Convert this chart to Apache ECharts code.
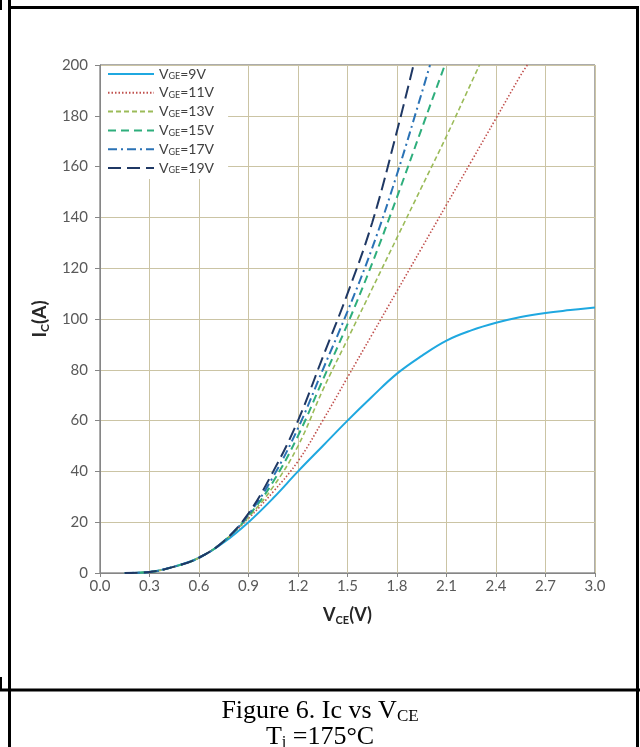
<!DOCTYPE html>
<html><head><meta charset="utf-8">
<script src="https://cdn.jsdelivr.net/npm/echarts@6/dist/echarts.min.js"></script>
<style>html,body{margin:0;padding:0;background:#fff}#c{width:640px;height:747px}</style>
</head><body><div id="c"></div>
<script>
// ---- data (VCE in V, IC in A) ----
const seriesNames = ['VGE=9V','VGE=11V','VGE=13V','VGE=15V','VGE=17V','VGE=19V'];
const v9  = [0.15,0.3,0.45,0.6,0.75,0.9,1.05,1.2,1.35,1.5,1.65,1.8,1.95,2.1,2.25,2.4,2.55,2.7,2.85,3.0];
const i9  = [0,0.4,2.5,6,12,20,29.5,40,50,60,69.5,78.5,85.5,91.5,95.5,98.5,100.8,102.4,103.5,104.5];
const v11 = [0.15,0.3,0.45,0.6,0.75,0.9,1.05,1.2,1.35,1.5,1.65,1.8,1.95,2.1,2.25,2.4,2.55,2.59];
const i11 = [0,0.4,2.5,6,12.5,21.5,32,44,60,77,94,111,128,145,162,179,196,200];
const v13 = [0.15,0.3,0.45,0.6,0.75,0.9,1.05,1.2,1.35,1.5,1.65,1.8,1.95,2.1,2.25,2.3];
const i13 = [0,0.4,2.5,6,12.5,22,34,50,72,92,112,132,152,172,193,200];
const v15 = [0.15,0.3,0.45,0.6,0.75,0.9,1.05,1.2,1.35,1.5,1.65,1.8,1.95,2.09];
const i15 = [0,0.4,2.5,6,12.5,22.5,36,54,76,98,122,148,175,200];
const v17 = [0.15,0.3,0.45,0.6,0.75,0.9,1.05,1.2,1.35,1.5,1.65,1.8,1.95,2.0];
const i17 = [0,0.4,2.5,6,12.5,23,38,57,80,103,128,157,189,200];
const v19 = [0.15,0.3,0.45,0.6,0.75,0.9,1.05,1.2,1.35,1.5,1.65,1.8,1.9];
const i19 = [0,0.4,2.5,6,12.5,23.5,40,60,85,110,138,174,200];
const xTicks = [0.0,0.3,0.6,0.9,1.2,1.5,1.8,2.1,2.4,2.7,3.0];
const yTicks = [0,20,40,60,80,100,120,140,160,180,200];

const xs = [v9,v11,v13,v15,v17,v19];
const ys = [i9,i11,i13,i15,i17,i19];
const colors = ['#1fa8e0','#c0504d','#9bbb59','#2eae7c','#2a72b5','#1f3864'];
const dashes = ['solid',[1.5,2],[5,3],[8,5],[9,4,2,4],[13,6]];
const widths = [2,1.6,1.6,2,2,2];

const chart = echarts.init(document.getElementById('c'), null, {renderer:'canvas'});
const FONT = 'Lato, "Open Sans", sans-serif';

const series = seriesNames.map((n,k)=>({
  name:n, type:'line', symbol:'none', smooth:0.4, clip:true,
  data: xs[k].map((x,j)=>[x, ys[k][j]]),
  lineStyle:{color:colors[k], width:widths[k], type:dashes[k]},
  itemStyle:{color:colors[k]}
}));

chart.setOption({
  animation:false,
  backgroundColor:'#fff',
  grid:{left:100,right:45,top:65,bottom:174,show:true,borderColor:'#595959',borderWidth:1,backgroundColor:'transparent'},
  legend:{
    orient:'vertical', left:101, top:66, padding:[1,14,4,6],
    backgroundColor:'#fff', itemWidth:46, itemHeight:12, itemGap:4.8,
    data:seriesNames,
    itemStyle:{color:'rgba(0,0,0,0)',borderColor:'rgba(0,0,0,0)',borderWidth:0,opacity:0},
    formatter: n => '{v|V}{s|GE}{v|=' + n.split('=')[1] + '}',
    textStyle:{color:'#404040', fontFamily:FONT, rich:{
      v:{fontSize:14,fontFamily:FONT,color:'#404040',lineHeight:14},
      s:{fontSize:9,fontFamily:FONT,color:'#404040',verticalAlign:'bottom',lineHeight:9}
    }}
  },
  xAxis:{
    type:'value', min:xTicks[0], max:xTicks[xTicks.length-1], interval:0.3,
    axisLine:{show:true,onZero:false,lineStyle:{color:'#868686'}},
    axisTick:{show:true,length:4,lineStyle:{color:'#868686'}},
    splitLine:{show:true,lineStyle:{color:'#cbc4a4',width:1}},
    axisLabel:{color:'#595959',fontFamily:FONT,fontSize:15,margin:6,formatter:v=>v.toFixed(1)},
    name:'{b|V}{s|CE}{b|(V)}', nameLocation:'middle', nameGap:31,
    nameTextStyle:{rich:{
      b:{fontSize:18,fontWeight:'bold',fontFamily:FONT,color:'#262626',lineHeight:22},
      s:{fontSize:11,fontWeight:'bold',fontFamily:FONT,color:'#262626',verticalAlign:'bottom',lineHeight:12}
    }}
  },
  yAxis:{
    type:'value', min:yTicks[0], max:yTicks[yTicks.length-1], interval:20,
    axisLine:{show:true,lineStyle:{color:'#868686'}},
    axisTick:{show:true,length:5,lineStyle:{color:'#868686'}},
    splitLine:{show:true,lineStyle:{color:'#cbc4a4',width:1}},
    axisLabel:{color:'#595959',fontFamily:FONT,fontSize:15,margin:12},
    name:'{b|I}{s|C}{b|(A)}', nameLocation:'middle', nameGap:48,
    nameTextStyle:{rich:{
      b:{fontSize:19,fontWeight:'bold',fontFamily:FONT,color:'#262626',lineHeight:22},
      s:{fontSize:12,fontWeight:'bold',fontFamily:FONT,color:'#262626',verticalAlign:'bottom',lineHeight:12}
    }}
  },
  series: series,
  graphic:[
    {type:'line',shape:{x1:8,y1:7.5,x2:639,y2:7.5},style:{stroke:'#000',lineWidth:3},z:100},
    {type:'line',shape:{x1:9.5,y1:0,x2:9.5,y2:747},style:{stroke:'#000',lineWidth:3},z:100},
    {type:'line',shape:{x1:637.5,y1:6,x2:637.5,y2:747},style:{stroke:'#000',lineWidth:3},z:100},
    {type:'line',shape:{x1:0,y1:690,x2:640,y2:690},style:{stroke:'#000',lineWidth:3},z:100},
    {type:'line',shape:{x1:1,y1:0,x2:1,y2:10},style:{stroke:'#000',lineWidth:2},z:100},
    {type:'line',shape:{x1:1,y1:677,x2:1,y2:690},style:{stroke:'#000',lineWidth:2},z:100},
    {type:'text', left:'center', top:698, z:100, style:{
      text:'{a|Figure 6. Ic vs V}{s|CE}',
      rich:{a:{fontSize:26,fontFamily:'"Liberation Serif", serif',fill:'#000',lineHeight:28},
            s:{fontSize:17,fontFamily:'"Liberation Serif", serif',fill:'#000',verticalAlign:'bottom',lineHeight:22}}
    }},
    {type:'text', left:'center', top:724, z:100, style:{
      text:'{a|T}{s|j}{a| =175°C}',
      rich:{a:{fontSize:26,fontFamily:'"Liberation Serif", serif',fill:'#000',lineHeight:28},
            s:{fontSize:16,fontFamily:'"Liberation Serif", serif',fill:'#000',verticalAlign:'bottom',lineHeight:16}}
    }}
  ]
});
</script></body></html>
